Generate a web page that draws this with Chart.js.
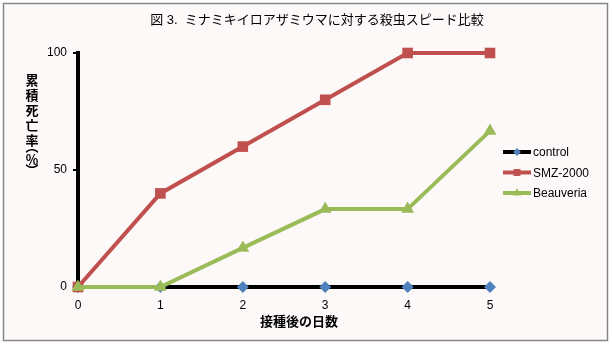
<!DOCTYPE html>
<html>
<head>
<meta charset="utf-8">
<script src="https://cdn.jsdelivr.net/npm/chart.js@4/dist/chart.umd.min.js"></script>
<style>
  html, body { margin: 0; padding: 0; background: #ffffff; }
  canvas { display: block; }
</style>
</head>
<body>
<canvas id="myChart" width="612" height="345"></canvas>
<script>
// days after inoculation and cumulative mortality (%)
const days = ["0", "1", "2", "3", "4", "5"];
const control = [0, 0, 0, 0, 0, 0];
const smz2000 = [0, 40, 60, 80, 100, 100];
const beauveria = [0, 0, 16.7, 33.3, 33.3, 66.7];
const yTicks = [0, 50, 100];

const titleText = "図 3.  ミナミキイロアザミウマに対する殺虫スピード比較";
const xTitle = "接種後の日数";
const yTitleChars = ["累", "積", "死", "亡", "率", "︵", "％", "︶"];

const FONT = "'Liberation Sans', 'Noto Sans CJK JP', sans-serif";

// frame, title, axis titles and legend
const decorations = {
  id: "decorations",
  beforeDraw(chart) {
    const ctx = chart.ctx;
    ctx.save();
    ctx.fillStyle = "#fdf9f8";
    ctx.fillRect(3, 3, 605, 338);
    ctx.strokeStyle = "#868686";
    ctx.lineWidth = 1.5;
    ctx.strokeRect(3.5, 3.5, 604, 337);
    ctx.restore();
  },
  afterDraw(chart) {
    const ctx = chart.ctx;
    ctx.save();
    ctx.fillStyle = "#000";
    ctx.textBaseline = "middle";

    ctx.font = "13px " + FONT;
    ctx.textAlign = "center";
    ctx.fillText(titleText, 317, 20);

    ctx.font = "bold 13px " + FONT;
    ctx.fillText(xTitle, 299, 322);

    // stacked vertical y title (the vertical bracket glyphs sit off-centre)
    const ys = [81, 96, 111, 126, 141, 147, 160, 171];
    yTitleChars.forEach((ch, i) => {
      ctx.fillText(ch, 32, ys[i]);
    });

    // legend
    ctx.textAlign = "left";
    ctx.font = "12px " + FONT;
    chart.data.datasets.forEach((ds, i) => {
      const ly = 152 + i * 20.5;
      ctx.strokeStyle = ds.borderColor;
      ctx.lineWidth = 4;
      ctx.beginPath();
      ctx.moveTo(503, ly);
      ctx.lineTo(531, ly);
      ctx.stroke();
      ctx.fillStyle = ds.pointBackgroundColor;
      ctx.strokeStyle = ds.pointBackgroundColor;
      Chart.helpers.drawPoint(ctx, {
        pointStyle: ds.pointStyle, radius: ds.pointRadius * 0.65, rotation: 0, borderWidth: 0
      }, 517, ly);
      ctx.fillStyle = "#000";
      ctx.fillText(ds.label, 533, ly + 1);
    });
    ctx.restore();
  }
};

new Chart(document.getElementById("myChart").getContext("2d"), {
  type: "line",
  data: {
    labels: days,
    datasets: [
      {
        label: "control",
        data: control,
        borderColor: "#000000",
        borderWidth: 4,
        pointStyle: "rectRot",
        pointRadius: 6,
        pointBackgroundColor: "#4f81bd",
        pointBorderWidth: 0,
        order: 2,
        clip: false
      },
      {
        label: "SMZ-2000",
        data: smz2000,
        borderColor: "#c0504d",
        borderWidth: 4,
        pointStyle: "rect",
        pointRadius: 7.5,
        pointBackgroundColor: "#c0504d",
        pointBorderWidth: 0,
        order: 1,
        clip: false
      },
      {
        label: "Beauveria",
        data: beauveria,
        borderColor: "#9bbb59",
        borderWidth: 4,
        pointStyle: "triangle",
        pointRadius: 7.5,
        pointBackgroundColor: "#9bbb59",
        pointBorderWidth: 0,
        order: 0,
        clip: false
      }
    ]
  },
  options: {
    responsive: false,
    animation: false,
    devicePixelRatio: 1,
    layout: { padding: { left: 0, top: 53, right: 122, bottom: 0 } },
    plugins: {
      legend: { display: false },
      tooltip: { enabled: false }
    },
    elements: { line: { tension: 0 } },
    scales: {
      x: {
        type: "category",
        offset: false,
        grid: { display: false, drawTicks: false },
        border: { display: true, color: "#868686", width: 1 },
        ticks: { color: "#000", font: { family: FONT, size: 12 }, padding: 11, maxRotation: 0 },
        afterFit: (s) => { s.height = 58; }
      },
      y: {
        min: 0,
        max: 100,
        afterBuildTicks: (s) => { s.ticks = yTicks.map(v => ({ value: v })); },
        grid: { drawOnChartArea: false, drawTicks: true, tickLength: 5, color: "#000", lineWidth: 2 },
        border: { display: true, color: "#000", width: 4 },
        ticks: { color: "#000", font: { family: FONT, size: 12 }, padding: 6 },
        afterFit: (s) => { s.width = 78; }
      }
    }
  },
  plugins: [decorations]
});
</script>
</body>
</html>
